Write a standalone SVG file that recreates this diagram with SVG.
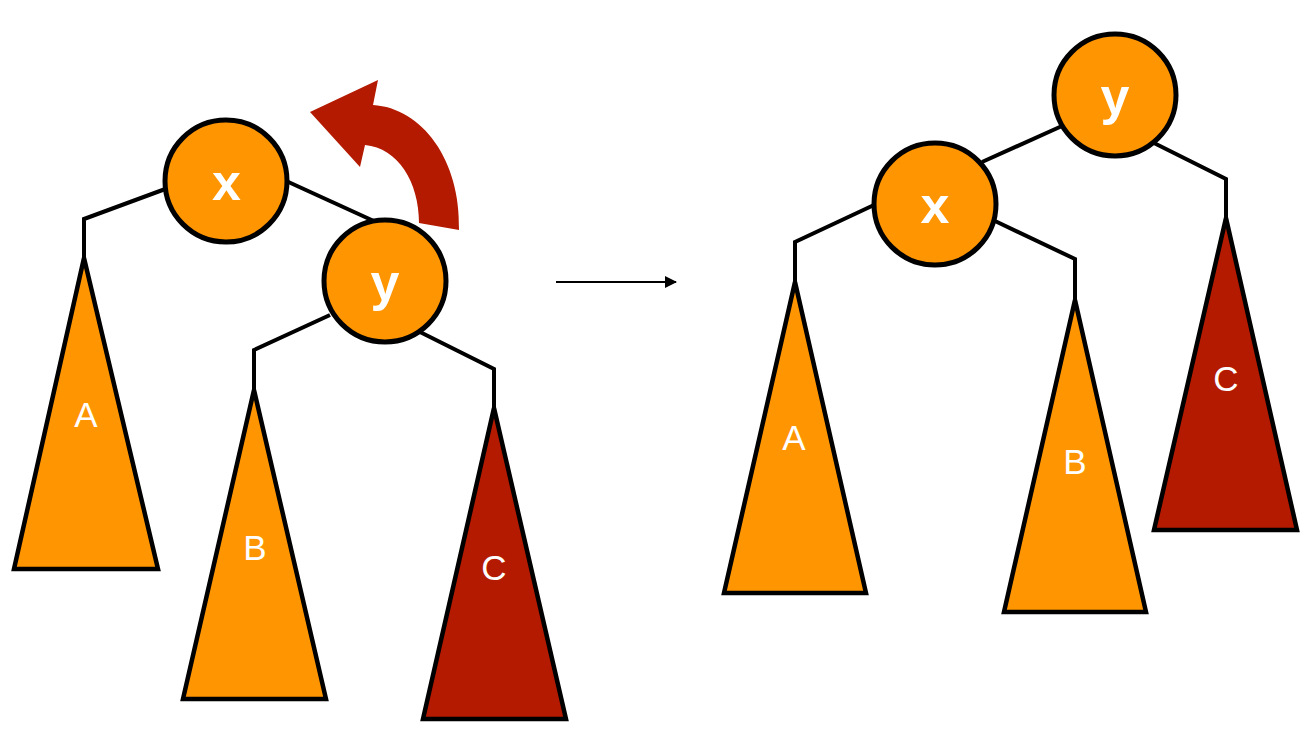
<svg xmlns="http://www.w3.org/2000/svg" width="1312" height="747" viewBox="0 0 1312 747">
  <defs>
    <style>
      .edge { fill: none; stroke: #000; stroke-width: 4; stroke-linejoin: miter; }
      .node circle { fill: #FF9500; stroke: #000; stroke-width: 5; }
      .tri { stroke: #000; stroke-width: 4.5; stroke-linejoin: miter; }
      .orange { fill: #FF9500; }
      .red { fill: #B31A00; }
      .nlabel { font-family: "Liberation Sans", Arial, sans-serif; font-size: 52px; font-weight: bold; fill: #fff; text-anchor: middle; }
      .tlabel { font-family: "Liberation Sans", Arial, sans-serif; font-size: 35px; fill: #fff; text-anchor: middle; }
    </style>
    <marker id="ah" viewBox="0 0 12 12" refX="11" refY="6" markerWidth="12" markerHeight="12" markerUnits="userSpaceOnUse" orient="auto">
      <path d="M0,0 L12,6 L0,12 Z" fill="#000"/>
    </marker>
  </defs>
  <rect width="1312" height="747" fill="#fff"/>

  <g id="connectors">
    <!-- left tree -->
    <polyline class="edge" points="168,188 84,219 84,260"/>
    <polyline class="edge" points="284,180 376,222"/>
    <polyline class="edge" points="330,315 254,350 254,392"/>
    <polyline class="edge" points="420,332 494,369 494,410"/>
    <!-- right tree -->
    <polyline class="edge" points="1062,126 982,162"/>
    <polyline class="edge" points="1152,142 1226,179 1226,220"/>
    <polyline class="edge" points="874,205 795,242 795,284"/>
    <polyline class="edge" points="995,221 1075,259 1075,302"/>
    <!-- transformation arrow -->
    <line x1="556" y1="282" x2="676" y2="282" stroke="#000" stroke-width="2" marker-end="url(#ah)"/>
  </g>

  <g id="rotation-arrow">
    <path class="red" d="M310,112 L378,80 L373,105 C422,108 461,160 459,230 L419,223 C419,182 398,148 365,145 L360,167 Z"/>
  </g>

  <!-- left tree -->
  <g id="left-A">
    <polygon class="tri orange" points="84,258 158,569 14,569"/>
    <text class="tlabel" x="86" y="427">A</text>
  </g>
  <g id="left-B">
    <polygon class="tri orange" points="254,390 326,699 183,699"/>
    <text class="tlabel" x="255" y="560">B</text>
  </g>
  <g id="left-C">
    <polygon class="tri red" points="494,408 566,719 423,719"/>
    <text class="tlabel" x="494" y="580">C</text>
  </g>
  <g id="left-x" class="node">
    <circle cx="226" cy="181" r="61"/>
    <text class="nlabel" x="226.5" y="200">x</text>
  </g>
  <g id="left-y" class="node">
    <circle cx="385" cy="281" r="61"/>
    <text class="nlabel" x="385" y="300">y</text>
  </g>

  <!-- right tree -->
  <g id="right-A">
    <polygon class="tri orange" points="795,282 866,593 724,593"/>
    <text class="tlabel" x="794" y="450">A</text>
  </g>
  <g id="right-B">
    <polygon class="tri orange" points="1075,300 1146,612 1004,612"/>
    <text class="tlabel" x="1075" y="474">B</text>
  </g>
  <g id="right-C">
    <polygon class="tri red" points="1226,218 1297,530 1154,530"/>
    <text class="tlabel" x="1226" y="391">C</text>
  </g>
  <g id="right-y" class="node">
    <circle cx="1115" cy="95" r="61"/>
    <text class="nlabel" x="1115" y="114">y</text>
  </g>
  <g id="right-x" class="node">
    <circle cx="935" cy="204" r="61"/>
    <text class="nlabel" x="935" y="223">x</text>
  </g>
</svg>
